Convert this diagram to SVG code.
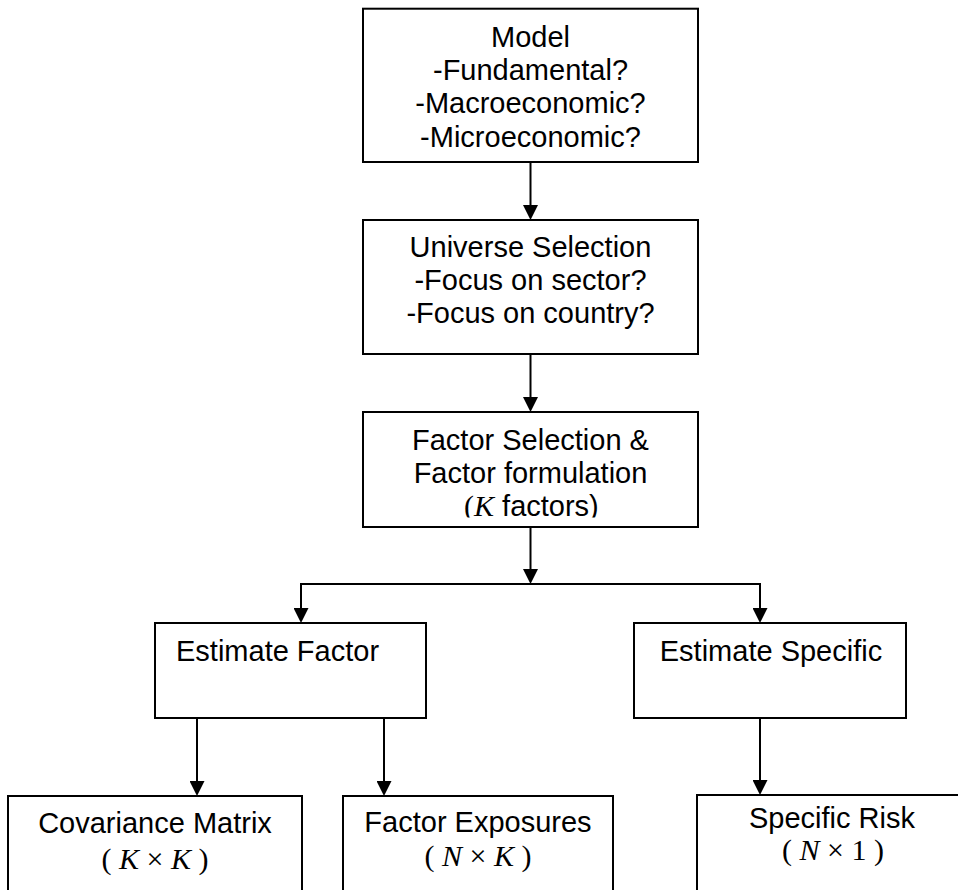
<svg xmlns="http://www.w3.org/2000/svg" width="958" height="890" viewBox="0 0 958 890">
<style>
.box{fill:#fff;stroke:#000;stroke-width:2}
.t{font-family:"Liberation Sans",Arial,sans-serif;font-size:29px;fill:#000}
.c{text-anchor:middle}
.m{font-family:"Liberation Serif","Times New Roman",serif;font-size:30px;fill:#000}
.i{font-style:italic}
.ln{fill:none;stroke:#000;stroke-width:2}
</style>
<defs>
<marker id="ah" viewBox="0 0 10 10" markerWidth="15" markerHeight="15" markerUnits="userSpaceOnUse" refX="6.7" refY="5" orient="auto">
<path d="M0,0 L10,5 L0,10 z" fill="#000"/>
</marker>
<clipPath id="clipK"><rect x="363" y="412" width="335" height="105.5"/></clipPath>
</defs>
<rect width="958" height="890" fill="#fff"/>
<g id="connectors">
<line class="ln" x1="530.5" y1="162" x2="530.5" y2="215" marker-end="url(#ah)"/>
<line class="ln" x1="530.5" y1="354" x2="530.5" y2="407" marker-end="url(#ah)"/>
<line class="ln" x1="530.5" y1="527" x2="530.5" y2="579" marker-end="url(#ah)"/>
<polyline class="ln" points="301,618 301,584 760,584 760,618" />
<line class="ln" x1="301" y1="600" x2="301" y2="618" marker-end="url(#ah)"/>
<line class="ln" x1="760" y1="600" x2="760" y2="618" marker-end="url(#ah)"/>
<line class="ln" x1="197" y1="718" x2="197" y2="791" marker-end="url(#ah)"/>
<line class="ln" x1="384" y1="718" x2="384" y2="791" marker-end="url(#ah)"/>
<line class="ln" x1="760" y1="718" x2="760" y2="790" marker-end="url(#ah)"/>
</g>
<g id="model">
<rect class="box" x="363" y="8.7" width="335" height="153.3"/>
<text class="t c" x="530.5" y="47">Model</text>
<text class="t c" x="530.5" y="80">-Fundamental?</text>
<text class="t c" x="530.5" y="113">-Macroeconomic?</text>
<text class="t c" x="530.5" y="146.5">-Microeconomic?</text>
</g>
<g id="universe">
<rect class="box" x="363" y="220" width="335" height="134"/>
<text class="t c" x="530.5" y="257">Universe Selection</text>
<text class="t c" x="530.5" y="290">-Focus on sector?</text>
<text class="t c" x="530.5" y="323">-Focus on country?</text>
</g>
<g id="factorsel">
<rect class="box" x="363" y="412" width="335" height="115"/>
<text class="t c" x="530.5" y="450">Factor Selection &amp;</text>
<text class="t c" x="530.5" y="483">Factor formulation</text>
<text class="t" x="464" y="516" clip-path="url(#clipK)"><tspan class="m">(</tspan><tspan class="m i">K</tspan> factors)</text>
</g>
<g id="estfactor">
<rect class="box" x="155" y="623" width="271" height="95"/>
<text class="t" x="176" y="661">Estimate Factor</text>
</g>
<g id="estspecific">
<rect class="box" x="634" y="623" width="272" height="95"/>
<text class="t c" x="771" y="661">Estimate Specific</text>
</g>
<g id="covariance">
<rect class="box" x="8" y="796" width="294" height="100"/>
<text class="t c" x="155" y="833">Covariance Matrix</text>
<text class="m c" x="155" y="869">( <tspan class="i">K</tspan> × <tspan class="i">K</tspan>  )</text>
</g>
<g id="exposures">
<rect class="box" x="343" y="796" width="270" height="100"/>
<text class="t c" x="478" y="832">Factor Exposures</text>
<text class="m c" x="478" y="866">( <tspan class="i">N</tspan> × <tspan class="i">K</tspan>  )</text>
</g>
<g id="specrisk">
<rect class="box" x="697" y="795" width="265" height="100"/>
<text class="t c" x="832" y="828">Specific Risk</text>
<text class="m c" x="833" y="860">( <tspan class="i">N</tspan> × 1 )</text>
</g>
</svg>
